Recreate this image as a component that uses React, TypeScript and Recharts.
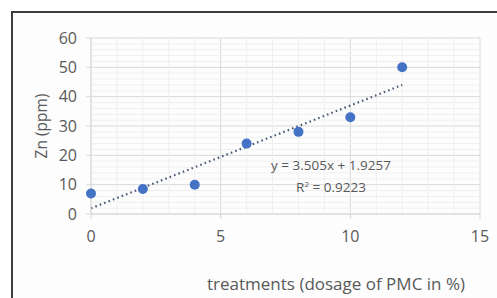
import React from "react";
import {
  ComposedChart,
  Scatter,
  XAxis,
  YAxis,
  CartesianGrid,
  ReferenceLine,
} from "recharts";

const dosage = [0, 2, 4, 6, 8, 10, 12];
const zinc = [7, 8.5, 10, 24, 28, 33, 50];
const xTicks = [0, 5, 10, 15];
const yTicks = [0, 10, 20, 30, 40, 50, 60];
const minorX = [1, 2, 3, 4, 6, 7, 8, 9, 11, 12, 13, 14];
const minorY = [2, 4, 6, 8, 12, 14, 16, 18, 22, 24, 26, 28, 32, 34, 36, 38, 42, 44, 46, 48, 52, 54, 56, 58];
const slope = 3.505;
const intercept = 1.9257;
const trendStart = 0;
const trendEnd = 12;
const equationText = "y = 3.505x + 1.9257";
const r2Label = "R";
const r2Value = " = 0.9223";
const xTitle = "treatments (dosage of PMC in %)";
const yTitle = "Zn (ppm)";

const data = dosage.map((x, i) => ({ x, y: zinc[i] }));

const FONT = "'Open Sans', 'Liberation Sans', sans-serif";
const TEXT = "#595959";
const GRID = "#d9d9d9";

const Dot = (props: any) => (
  <circle cx={props.cx} cy={props.cy} r={5} fill="#4472C4" />
);

export default function App() {
  return (
    <div
      style={{
        position: "absolute",
        left: 0,
        top: 0,
        width: 497,
        height: 298,
        background: "#ffffff",
        overflow: "hidden",
        fontFamily: FONT,
      }}
    >
      <div
        style={{
          position: "absolute",
          left: 11,
          top: 11,
          width: 500,
          height: 300,
          borderTop: "2px solid #3c3c3c",
          borderLeft: "2px solid #3c3c3c",
          background: "#fdfdfd",
        }}
      />
      <div style={{ position: "absolute", left: 0, top: 0 }}>
        <ComposedChart
          width={497}
          height={298}
          data={data}
          margin={{ top: 38, right: 17, bottom: 54, left: 61 }}
        >
          {minorX.map((v) => (
            <ReferenceLine key={"mx" + v} x={v} stroke="#efefef" strokeWidth={1} />
          ))}
          {minorY.map((v) => (
            <ReferenceLine key={"my" + v} y={v} stroke="#efefef" strokeWidth={1} />
          ))}
          <CartesianGrid stroke={GRID} strokeWidth={1} />
          <XAxis
            type="number"
            dataKey="x"
            domain={[0, 15]}
            ticks={xTicks}
            height={30}
            axisLine={{ stroke: GRID }}
            tickLine={{ stroke: GRID }}
            tickSize={5}
            tickMargin={12}
            tick={{ fill: TEXT, fontSize: 16, fontFamily: FONT }}
          />
          <YAxis
            type="number"
            dataKey="y"
            domain={[0, 60]}
            ticks={yTicks}
            width={30}
            axisLine={{ stroke: GRID }}
            tickLine={{ stroke: GRID }}
            tickSize={5}
            tickMargin={9}
            tick={{ fill: TEXT, fontSize: 16, fontFamily: FONT }}
          />
          <ReferenceLine
            segment={[
              { x: trendStart, y: slope * trendStart + intercept },
              { x: trendEnd, y: slope * trendEnd + intercept },
            ]}
            stroke="#4a5b7c"
            strokeWidth={2.2}
            strokeDasharray="1.6 3.1"
          />
          <Scatter
            dataKey="y"
            fill="#4472C4"
            shape={Dot}
            isAnimationActive={false}
          />
        </ComposedChart>
      </div>
      <div
        style={{
          position: "absolute",
          left: 231,
          width: 200,
          top: 154,
          textAlign: "center",
          fontSize: 13.5,
          color: TEXT,
          lineHeight: "22px",
        }}
      >
        <div>{equationText}</div>
        <div>
          {r2Label}
          <sup style={{ fontSize: 8, lineHeight: 0 }}>2</sup>
          {r2Value}
        </div>
      </div>
      <div
        style={{
          position: "absolute",
          left: 136,
          width: 400,
          top: 272,
          textAlign: "center",
          fontSize: 17,
          color: TEXT,
        }}
      >
        {xTitle}
      </div>
      <div
        style={{
          position: "absolute",
          left: 41,
          top: 126,
          transform: "translate(-50%, -50%) rotate(-90deg)",
          whiteSpace: "nowrap",
          fontSize: 15.5,
          color: TEXT,
        }}
      >
        {yTitle}
      </div>
    </div>
  );
}
